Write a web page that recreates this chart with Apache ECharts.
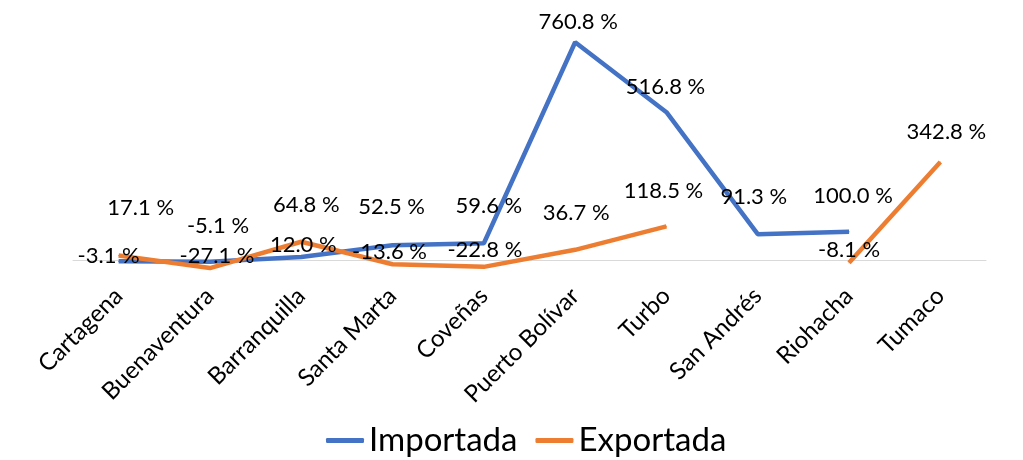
<!DOCTYPE html>
<html>
<head>
<meta charset="utf-8">
<script src="https://cdn.jsdelivr.net/npm/echarts@6/dist/echarts.min.js"></script>
<style>
  html, body { margin: 0; padding: 0; background: #fff; }
  #chart { width: 1023px; height: 460px; }
</style>
</head>
<body>
<div id="chart"></div>
<script>
  // puertos
  var categories = ['Cartagena', 'Buenaventura', 'Barranquilla', 'Santa Marta', 'Coveñas',
                    'Puerto Bolívar', 'Turbo', 'San Andrés', 'Riohacha', 'Tumaco'];
  // variación %
  var importada = [-3.1, -5.1, 12.0, 52.5, 59.6, 760.8, 516.8, 91.3, 100.0, null];
  var exportada = [17.1, -27.1, 64.8, -13.6, -22.8, 36.7, 118.5, null, -8.1, 342.8];

  // desplazamiento de etiquetas (como en el original, movidas a mano)
  var impOffset = [[-10, -5], [8, -36], [2, -12], [-1, -38], [5, -37], [3, -20], [-1, -25], [-4, -37], [4, -36], [0, 0]];
  var expOffset = [[22, -48], [7, -12], [5, -37], [-3, -12], [1, -17], [1, -37], [-3, -35], [0, 0], [0, -13], [6, -30]];

  var fontFam = 'Lato, "Open Sans", sans-serif';

  function withLabels(values, offsets) {
    return values.map(function (v, i) {
      if (v === null) return null;
      return { value: v, label: { offset: offsets[i] } };
    });
  }

  var chart = echarts.init(document.getElementById('chart'));
  var option = {
    animation: false,
    grid: { left: 73, right: 37, top: 31, bottom: 171 },
    xAxis: {
      type: 'category',
      data: categories,
      boundaryGap: true,
      axisLine: { onZero: true, lineStyle: { color: '#d9d9d9', width: 1 } },
      axisTick: { show: false },
      axisLabel: {
        rotate: 45,
        margin: 3,
        interval: 0,
        color: '#000',
        fontFamily: fontFam,
        fontSize: 24
      }
    },
    yAxis: {
      type: 'value',
      min: -100,
      max: 800,
      show: false,
      splitLine: { show: false }
    },
    legend: {
      bottom: -2,
      left: 321,
      icon: 'roundRect',
      itemWidth: 38,
      itemHeight: 5,
      itemGap: 18,
      textStyle: { fontFamily: fontFam, fontSize: 33, color: '#000' },
      data: ['Importada', 'Exportada']
    },
    series: [
      {
        name: 'Importada',
        type: 'line',
        data: withLabels(importada, impOffset),
        symbol: 'circle',
        symbolSize: 1,
        itemStyle: { color: '#4472C4' },
        lineStyle: { color: '#4472C4', width: 4.5 },
        label: {
          show: true,
          position: 'inside',
          color: '#000',
          fontFamily: fontFam,
          fontSize: 22,
          formatter: function (p) { return p.value.toFixed(1) + ' %'; }
        }
      },
      {
        name: 'Exportada',
        type: 'line',
        data: withLabels(exportada, expOffset),
        symbol: 'circle',
        symbolSize: 1,
        itemStyle: { color: '#ED7D31' },
        lineStyle: { color: '#ED7D31', width: 4.5 },
        label: {
          show: true,
          position: 'inside',
          color: '#000',
          fontFamily: fontFam,
          fontSize: 22,
          formatter: function (p) { return p.value.toFixed(1) + ' %'; }
        }
      }
    ]
  };
  chart.setOption(option);
</script>
</body>
</html>
